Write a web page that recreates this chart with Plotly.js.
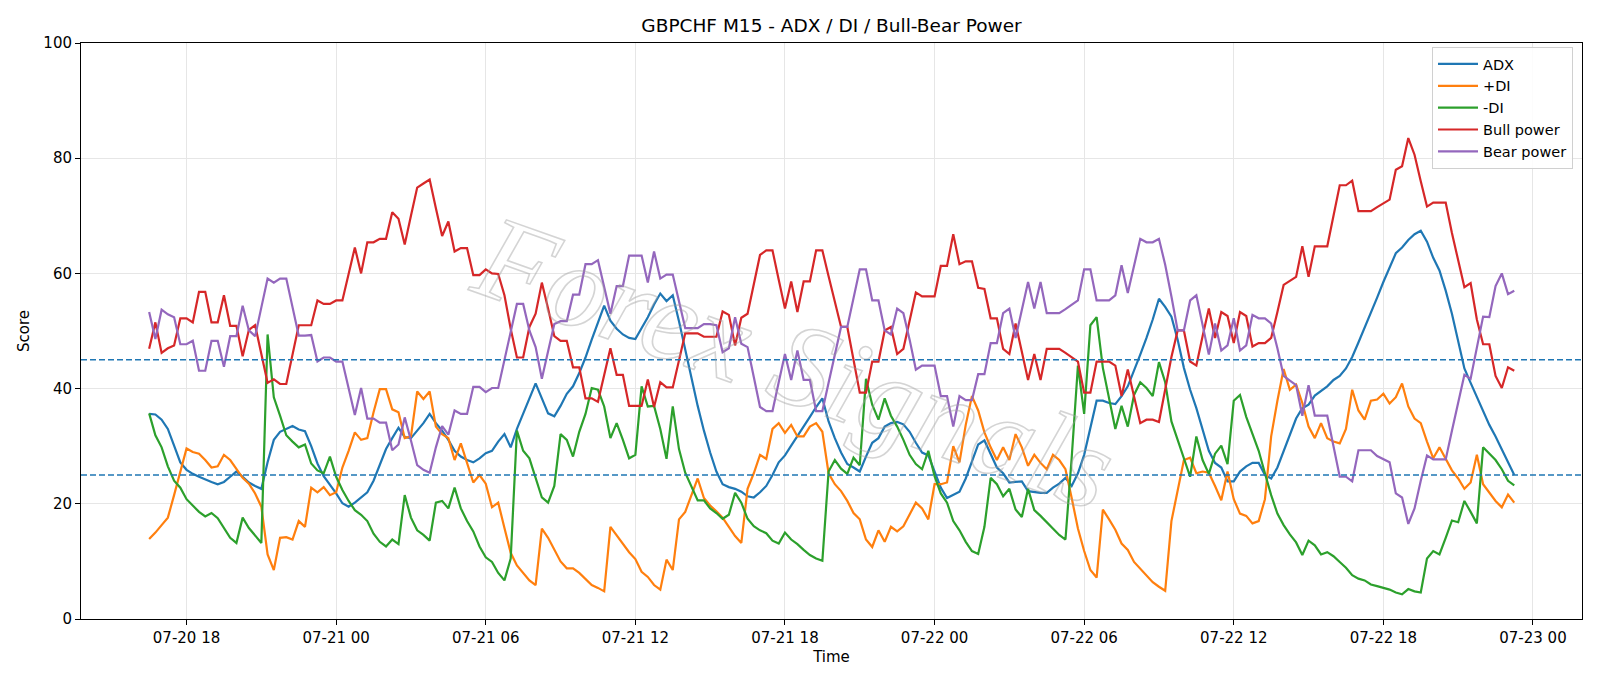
<!DOCTYPE html>
<html><head><meta charset="utf-8">
<script src="https://cdn.plot.ly/plotly-3.0.1.min.js"></script>
<style>html,body{margin:0;padding:0;background:#fff;} #chart{width:1600px;height:686px;}</style>
</head><body><div id="chart"></div>
<script>
// Time axis: M15 bars starting at this time
const START_TIME = '2025-07-20T16:30:00';
const STEP_MINUTES = 15;

const seriesNames = ['ADX', '+DI', '-DI', 'Bull power', 'Bear power'];

const adx = [
35.6,35.5,34.6,33,30.1,27.2,25.9,25.2,24.7,24.2,
23.8,23.4,23.8,24.7,25.6,24.7,23.7,23.1,22.6,27.2,
31.1,32.5,33,33.5,32.9,32.6,30,27,24.8,23.4,
21.8,20.1,19.5,20.2,21.1,22,24,26.7,29.5,31.4,
33.2,31.6,31.4,32.7,34,35.6,34,32.7,31.1,29.2,
28.2,27.6,27.2,27.9,28.8,29.2,30.8,32.1,29.8,33,
35.6,38.3,40.9,38.3,35.7,35.2,37,39.1,40.4,42.7,
45.4,48.5,51.5,54.4,51.8,50.4,49.4,48.8,48.6,50.4,
52.4,54.6,56.5,55.2,56.2,51.7,46.7,41.9,37,32.7,
28.9,25.6,23.4,22.9,22.6,22.1,21.3,21.1,22,23.1,
25,27.2,28.4,30.1,31.7,33.4,35.1,36.8,38.3,34.3,
31.4,28.9,26.9,26.3,25.6,28.2,30.6,31.4,33.4,34,
34.2,33.8,32.5,30.6,28.9,28.4,25.6,22.8,21,21.6,
22.1,24.4,27.4,30.3,31,28.5,26.3,25.3,23.7,23.8,
23.9,22.2,22,21.9,21.9,22.8,23.5,24.5,23.1,25.3,
28.5,33.4,37.9,37.9,37.5,37.3,38.7,40.4,43,45.9,
48.8,52,55.6,54.2,52.5,48.5,43.6,39.8,36.6,32.7,
29.2,27.1,26.3,23.9,23.9,25.6,26.5,27.1,27.1,25,
24.4,26.3,29.2,31.9,34.8,36.6,37.2,38.8,39.6,40.4,
41.5,42.2,43.5,45.5,48,50.5,53,55.8,58.5,61,
63.5,64.5,65.8,66.8,67.4,65.5,62.7,60.5,57,53,
48,43.5,41,38.5,36,33.7,31.7,29.5,27.2,25
];

const plusDI = [
13.9,15,16.3,17.6,21.5,25.5,29.6,29,28.7,27.6,
26.3,26.5,28.5,27.6,26,24.5,23.5,21.8,19.5,11.2,
8.5,14.1,14.2,13.8,17,16,22.8,22,22.9,21.5,
22,26.3,29.2,32.4,31.1,31.4,35.9,39.9,39.9,36.4,
35.9,31.4,31.7,39.5,38.2,39.5,33.4,32.1,31.4,27.6,
30.5,26.9,23.7,25,23.5,19.4,20.2,15.8,11.5,9.3,
8,6.7,5.9,15.7,14.1,12,10,8.8,8.8,8,
7,5.9,5.4,4.8,16,14.5,13.1,11.6,10.4,8.2,
7.3,5.9,5.1,10.3,8.5,17.3,18.6,21.5,24.4,21,
19.7,18.7,17.6,16,14.4,13.2,22.6,25.3,28.5,27.8,
33,34,32.3,33.7,31.7,31.7,33.4,34,32.5,25.3,
23.4,22.2,20.5,18.4,17.3,13.8,12.5,15.4,13.4,16,
15.2,16.1,18.1,20.2,19.2,17.3,23.4,23.4,23.7,30,
27.2,33.7,38.7,36.2,32.4,29.8,27.6,29.8,27.6,32.1,
29.8,26.6,28.5,27.1,26,28.5,27.6,26,21,15.7,
11.8,8.5,7.2,19,17.3,15.5,13.1,12,9.9,8.7,
7.6,6.4,5.6,4.9,17,22.4,27.6,28,25.3,25.6,
25.4,23.1,20.6,25.6,20.8,18.3,17.9,16.6,17,20.8,
31.7,37.9,43.4,39.8,40.7,37.5,33.4,31.4,34,31.4,
30.8,30.5,33,39.8,36.2,34.6,37.9,38.1,39.1,37.4,
38.5,40.9,36.9,34.8,34,30.8,27.9,29.8,27.9,25.8,
24.4,22.6,23.7,28.5,23.4,22,20.5,19.4,21.6,20.2
];

const minusDI = [
35.7,31.9,29.8,26.5,24,22.8,20.8,19.7,18.6,17.8,
18.4,17.5,15.8,14.1,13.2,17.6,15.8,14.4,13.2,49.4,
38.5,35.3,31.9,30.8,29.8,30.3,27,25.8,25.3,28.2,
24.7,22.4,20.5,18.9,18.1,17,14.8,13.4,12.6,13.8,
13,21.5,17.6,15.4,14.6,13.6,20.2,20.5,19.2,22.8,
19.2,17,15.2,12.6,10.7,9.9,8,6.7,10.5,32.7,
29.2,27.9,24.5,21.1,20.2,23.1,32.1,31.1,28.2,32.5,
35.6,40.1,39.8,36.9,31.4,34,31.1,27.9,28.5,40.4,
36.9,37,33,27.8,36.9,29.5,25.4,23.1,20.6,20.6,
19.2,18.4,17.4,18.1,21.9,20.2,17.4,16.1,15.4,14.9,
13.6,13.1,15,13.8,13,12,11.1,10.5,10.1,25.6,
27.6,26.1,25.2,28,26.7,41.7,37.2,34.6,38.3,35.3,
33.4,31.1,28.5,26.9,26,29.2,24.8,21.8,20.2,17,
15.4,13.4,11.8,11.3,16,24.5,23.4,21.3,22.6,19,
17.7,22.6,18.9,17.9,16.8,15.7,14.6,13.8,28,44,
35.6,51,52.4,43.6,38.2,33,37,33.4,38.9,41.1,
40.1,38.7,44.6,41.1,34.3,31.1,27.9,24.7,31.7,27.6,
25.2,28.7,30.1,26.9,37.9,38.9,35.1,32,29.2,25.3,
21.5,18.3,16.3,14.7,13.3,11.1,13.6,12.8,11.2,11.6,
10.9,9.9,8.9,7.6,7,6.7,6,5.7,5.4,5.1,
4.6,4.3,5.2,4.8,4.6,10.5,11.8,11.2,14.1,17.1,
16.8,20.5,18.6,16.6,29.8,28.7,27.6,26,24,23.2
];

const bullPower = [
46.9,51.5,46.2,47,47.5,52.2,52.2,51.5,56.8,56.8,
51.5,51.5,56.2,50.9,50.9,45.6,50.2,51,46,41,
41.6,40.8,40.8,46,51,51,51,55.3,54.7,54.7,
55.3,55.3,60,64.5,60,65.4,65.4,66,66,70.6,
69.5,65,70,74.9,75.6,76.3,71.3,66.5,69,63.8,
64.4,64.4,59.7,59.7,60.7,60,59.9,56.2,50.4,45.4,
45.4,50.7,53,58.4,53.9,49.1,48.3,48.3,43.7,43.7,
38.3,38.3,37.7,42.4,47,42.4,42.4,37,37,37,
41.6,36.8,41.1,40.2,40.2,44.9,49.6,49.6,49.6,49,
49,49,53.4,52.8,47.5,52.3,53,58.1,63.2,64,
64,58.9,53.9,58.6,53.3,58.6,58.6,64,64,59.5,
55,50.7,50.7,45,39.3,39.3,44.7,44.7,50.1,50.7,
46,46.9,51.7,56.7,56,56,56,61.3,61.3,66.8,
61.6,62.1,62.1,57.5,57.3,52.2,52.2,46.9,46,51.3,
46.5,41.5,46,41.5,46.9,46.9,46.9,46.2,45.4,44.7,
39.3,39.3,44.7,44.7,44.7,44,38.7,43.3,38.5,34,
34.6,34.6,34.2,40,45.5,50.1,50.1,44.7,44,49.1,
53.9,48.8,53.3,52.6,47.9,53.3,52.6,47.3,47.9,47.9,
48.8,53.3,58,58.7,59.4,64.7,59.4,64.7,64.7,64.7,
70,75.3,75.3,76.1,70.8,70.8,70.8,71.5,72.1,72.8,
78,78.6,83.5,80.6,76,71.6,72.3,72.3,72.3,67,
62,57.6,58.3,52,47.7,47.7,42.2,40.1,43.7,43.1
];

const bearPower = [
53.3,48.6,53.7,52.9,52.4,47.7,47.7,48.3,43.1,43.1,
48.3,48.3,43.8,49.1,49.1,54.4,50.1,49.1,54.1,59.1,
58.4,59.1,59.1,54,49.2,49.2,49.3,44.7,45.4,45.4,
44.7,44.7,40.1,35.4,40.1,34.8,34.8,34.1,34.1,29.3,
30.3,35,31,26.7,25.9,25.4,29.8,33.5,32,36.2,
35.6,35.6,40.3,40.3,39.4,40.1,40.1,45,50.4,54.7,
54.7,50.1,47.2,41.7,46.5,51.2,51.7,51.7,56.3,56.3,
61.6,61.6,62.3,57.5,53,57.8,57.8,63.1,63.1,63.1,
58.4,63.8,59.1,59.8,59.8,55.2,50.5,50.5,50.5,51.2,
51.2,51,46.3,47,52.4,47.8,47.2,42,36.8,36.1,
36.1,41.1,46,41.5,46.6,41.5,41.5,36.1,36.1,41,
46,50.7,50.7,55.7,60.7,60.7,55.3,55.3,50.1,49.4,
53.9,53.1,48.5,43.3,44,44,44,38.7,38.7,33.4,
38.7,38,38,42.5,42.5,47.9,47.9,53.1,53.9,48.8,
53.5,58.5,53.9,58.5,53.1,53.1,53.1,53.8,54.5,55.3,
60.7,60.7,55.3,55.3,55.3,56.2,61.4,56.6,61.3,66,
65.4,65.4,66,61.5,56,50.1,50.1,55.3,56.2,51,
45.9,51.3,46.6,47.5,52.2,46.6,47.5,52.8,52.2,52.2,
51.3,47,42.2,41.4,40.6,35.3,40.6,35.3,35.3,35.3,
30,24.7,24.7,23.9,29.3,29.3,29.3,28.3,27.7,27.2,
21.8,21.1,16.5,19.2,24,28.4,27.7,27.7,27.7,32.7,
37.7,42.4,41.7,47.3,52.5,52.4,57.8,60,56.4,57
];

const thresholds = [25, 45];
const colors = ['#1f77b4', '#ff7f0e', '#2ca02c', '#d62728', '#9467bd'];
const watermarkText = 'Forex Signals';

const t0 = Date.parse(START_TIME + 'Z');
const times = adx.map((_, i) => new Date(t0 + i * STEP_MINUTES * 60000).toISOString().slice(0, 19).replace('T', ' '));

const allSeries = [adx, plusDI, minusDI, bullPower, bearPower];
const traces = allSeries.map((ys, k) => ({
  type: 'scatter', mode: 'lines', name: seriesNames[k],
  x: times, y: ys,
  line: {color: colors[k], width: 2.2}
}));

const FONT = 'DejaVu Sans, Liberation Sans, sans-serif';
const TICK = 15;

const layout = {
  width: 1600, height: 686,
  margin: {l: 81, r: 18, t: 43, b: 67},
  paper_bgcolor: '#ffffff', plot_bgcolor: '#ffffff',
  font: {family: FONT, size: TICK, color: '#000'},
  title: {text: 'GBPCHF M15 - ADX / DI / Bull-Bear Power', x: 0.5, xref: 'paper', xanchor: 'center',
          y: 1 - 25.5/686, yref: 'container', yanchor: 'middle', font: {family: FONT, size: 18.5, color: '#000'}},
  showlegend: true,
  legend: {x: 0.994, y: 0.993, xanchor: 'right', yanchor: 'top', bgcolor: 'rgba(255,255,255,0.85)',
           bordercolor: '#d0d0d0', borderwidth: 1, font: {family: FONT, size: 14.5, color: '#000'},
           itemwidth: 40, tracegroupgap: 0},
  xaxis: {
    type: 'date', range: ['2025-07-20 13:46', '2025-07-23 01:58'],
    tick0: '2025-07-20 00:00', dtick: 6 * 3600 * 1000, tickformat: '%m-%d %H',
    showgrid: true, gridcolor: '#e6e6e6', gridwidth: 1, zeroline: false,
    showline: true, mirror: true, linecolor: '#000', linewidth: 1,
    ticks: 'outside', ticklen: 5, tickwidth: 1, tickcolor: '#000',
    tickfont: {family: FONT, size: TICK, color: '#000'},
    title: {text: 'Time', font: {family: FONT, size: TICK, color: '#000'}, standoff: 5},
    automargin: false
  },
  yaxis: {
    range: [0, 100], tick0: 0, dtick: 20,
    showgrid: true, gridcolor: '#e6e6e6', gridwidth: 1, zeroline: false,
    showline: true, mirror: true, linecolor: '#000', linewidth: 1,
    ticks: 'outside', ticklen: 5, tickwidth: 1, tickcolor: '#000',
    tickfont: {family: FONT, size: TICK, color: '#000'},
    title: {text: 'Score', font: {family: FONT, size: TICK, color: '#000'}, standoff: 10},
    automargin: false
  },
  shapes: thresholds.map(v => ({
    type: 'line', xref: 'paper', x0: 0, x1: 1, yref: 'y', y0: v, y1: v,
    line: {color: '#1f77b4', width: 1.4, dash: '6px,3px'}, layer: 'above'
  })),
  annotations: [{
    text: watermarkText, xref: 'paper', yref: 'paper', x: 0.476, y: 0.445,
    showarrow: false, textangle: 19.5,
    font: {family: 'Liberation Serif, serif', size: 120, color: 'rgba(160,160,160,0.4)', style: 'italic'}
  }]
};

Plotly.newPlot('chart', traces, layout, {displayModeBar: false, staticPlot: true}).then(gd => {
  // draw the watermark as a thin light outline, like the reference
  gd.querySelectorAll('.annotation-text').forEach(el => {
    el.style.fill = 'none';
    el.style.stroke = 'rgba(160,160,160,0.45)';
    el.style.strokeWidth = '1.6px';
  });
});
</script>
</body></html>
